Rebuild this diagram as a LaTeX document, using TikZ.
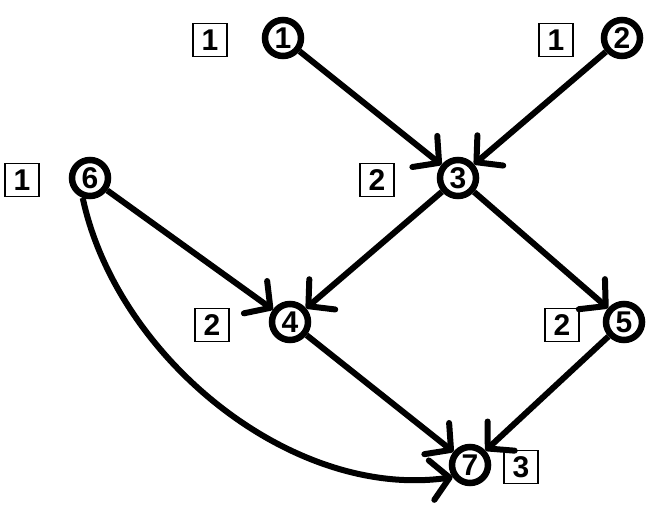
\documentclass[tikz,border=0pt]{standalone}
\usepackage{fontspec}
\setmainfont{Liberation Sans}
\usetikzlibrary{arrows.meta}

\begin{document}
\begin{tikzpicture}[x=1pt,y=-1pt,
		vertex/.style={circle,draw,line width=6.5pt,minimum size=36pt,inner sep=0pt,font=\fontsize{30}{30}\selectfont\bfseries},
		weight/.style={rectangle,draw,line width=1.5pt,minimum width=34pt,minimum height=33pt,inner sep=0pt,font=\fontsize{30}{30}\selectfont\bfseries},
		edge/.style={line width=6pt,-{Straight Barb[angle=95:27pt,round]}}]
				\useasboundingbox (0,0) rectangle (652,529);
				\node[vertex] (n1) at (283,38) {1};
				\node[vertex] (n2) at (622,38) {2};
				\node[vertex] (n3) at (458,178) {3};
				\node[vertex] (n6) at (90,178) {6};
				\node[vertex] (n4) at (290,322) {4};
				\node[vertex] (n5) at (624,322) {5};
				\node[vertex] (n7) at (470,465) {7};
				\node[weight] (w1) at (210,40) {1};
				\node[weight] (w2) at (556,40) {1};
				\node[weight] (w3) at (377,180) {2};
				\node[weight] (w6) at (22,180) {1};
				\node[weight] (w4) at (212,325) {2};
				\node[weight] (w5) at (562,325) {2};
				\node[weight] (w7) at (521,467) {3};
				\draw[edge] (n1) -- (n3);
				\draw[edge] (n2) -- (n3);
				\draw[edge] (n3) -- (n4);
				\draw[edge] (n3) -- (n5);
				\draw[edge] (n6) -- (n4);
				\draw[edge] (n4) -- (n7);
				\draw[edge] (n5) -- (n7);
				\draw[edge] (n6.250) to[out=-78,in=188,looseness=0.9] (n7.215);
			\end{tikzpicture}
\end{document}
